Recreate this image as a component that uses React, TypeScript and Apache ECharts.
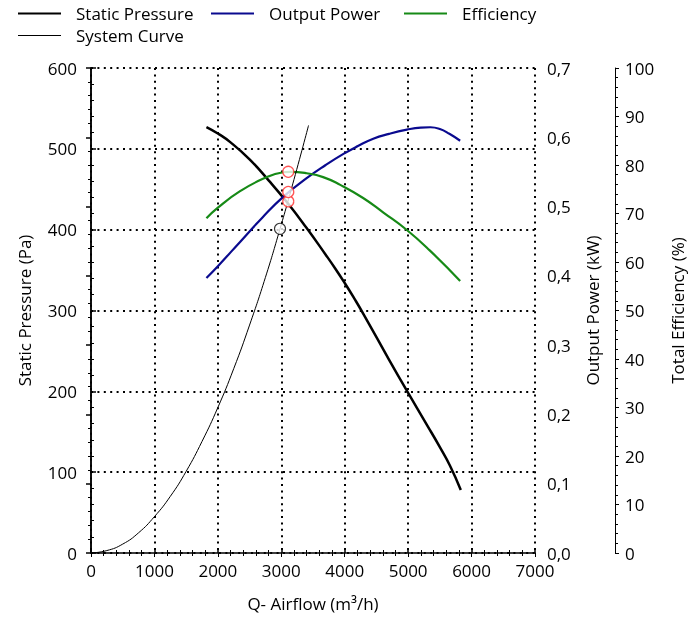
import React, { useEffect, useRef } from "react";
import * as echarts from "echarts";

// ---- data ----
const pressureQ = [1820, 2000, 2200, 2500, 2800, 3100, 3400, 3700, 3850, 4000, 4150, 4300, 4700, 5000, 5300, 5500, 5660, 5830];
const pressureP = [527, 519, 508, 487, 461, 433, 402, 369, 352, 334, 315, 295, 239, 198, 158, 131, 108, 78];

const powerQ = [1820, 2000, 2350, 2700, 3030, 3400, 3700, 3980, 4200, 4450, 4700, 4980, 5200, 5350, 5500, 5650, 5820];
const powerKW = [0.397, 0.414, 0.449, 0.484, 0.514, 0.541, 0.56, 0.576, 0.587, 0.598, 0.605, 0.611, 0.614, 0.6145, 0.612, 0.605, 0.595];

const effQ = [1820, 2000, 2350, 2720, 3030, 3140, 3400, 3660, 3930, 4290, 4610, 4980, 5340, 5820];
const effPct = [69.0, 71.2, 74.6, 77.2, 78.5, 78.6, 78.3, 77.5, 75.9, 73.2, 70.2, 66.6, 62.4, 56.1];

const systemQ = [0, 250, 500, 750, 1000, 1250, 1500, 1750, 2000, 2250, 2500, 2750, 2980, 3200, 3430];
const systemP = [0, 3, 11, 25, 45, 70, 101, 138, 180, 228, 282, 341, 401, 462, 529];

const opQ = 3110;
const opPressure = 435;
const opPower = 0.521;
const opEff = 78.6;
const sysPointQ = 2980;
const sysPointP = 401;

const xTicks = [0, 7000, 1000];
const pressureTicks = [0, 600, 100];
const powerTicks = [0, 0.7, 0.1];
const effTicks = [0, 100, 10];

const FONT = "Open Sans";

export default function App() {
  const ref = useRef<HTMLDivElement>(null);
  useEffect(() => {
    if (!ref.current) return;
    const chart = echarts.init(ref.current, undefined, { renderer: "svg" });
    const zip = (a: number[], b: number[]) => a.map((v, i) => [v, b[i]]);
    const dotted = { color: "#000", width: 2, type: [2, 4.4] as any };
    const txt = { color: "#000", fontFamily: FONT, fontSize: 17 };
    const redCircle = {
      color: "#fff",
      borderColor: "#ff2a2a",
      borderWidth: 1.3,
    };
    const lineCommon = { type: "line", smooth: 0.5, symbol: "none", z: 3 };
    const thick = "path://M0,0H43V2.2H0Z";
    const thin = "path://M0,0H43V1.1H0Z";
    const mkLegend = (name: string, left: number, top: number, icon: string) => ({
      left,
      top,
      padding: 0,
      itemWidth: 43,
      itemHeight: 14,
      data: [{ name, icon }],
      textStyle: { ...txt, padding: [0, 0, 0, 10] },
    });
    chart.setOption({
      animation: false,
      textStyle: { fontFamily: FONT },
      legend: [
        mkLegend("Static Pressure", 18, 5, thick),
        mkLegend("Output Power", 211, 5, thick),
        mkLegend("Efficiency", 404, 5, thick),
        mkLegend("System Curve", 18, 27, thin),
      ],
      grid: { left: 91, right: 163, top: 68, bottom: 65 },
      xAxis: [
        {
          type: "value",
          min: xTicks[0],
          max: xTicks[1],
          interval: xTicks[2],
          name: "Q- Airflow (m³/h)",
          nameLocation: "middle",
          nameGap: 42,
          nameTextStyle: txt,
          axisLine: { show: true, lineStyle: { color: "#000", width: 1.5 } },
          axisTick: { show: true, inside: true, length: 5, lineStyle: { color: "#000", width: 1.5 } },
          minorTick: { show: true, splitNumber: 5, length: 3, lineStyle: { color: "#000" } },
          axisLabel: { ...txt, margin: 9, formatter: (v: number) => String(v) },
          splitLine: { show: true, lineStyle: dotted },
        },
        {
          type: "value",
          position: "top",
          min: xTicks[0],
          max: xTicks[1],
          interval: xTicks[2],
          axisLine: { show: false },
          axisTick: { show: true, inside: true, length: 4, lineStyle: { color: "#000" } },
          minorTick: { show: true, splitNumber: 5, length: 3, lineStyle: { color: "#000" } },
          axisLabel: { show: false },
          splitLine: { show: false },
        },
      ],
      yAxis: [
        {
          type: "value",
          min: pressureTicks[0],
          max: pressureTicks[1],
          interval: pressureTicks[2],
          name: "Static Pressure (Pa)",
          nameLocation: "middle",
          nameGap: 58,
          nameTextStyle: txt,
          axisLine: { show: true, lineStyle: { color: "#000", width: 1.5 } },
          axisTick: { show: true, inside: true, length: 5, lineStyle: { color: "#000", width: 1.5 } },
          minorTick: { show: true, splitNumber: 5, length: 3, lineStyle: { color: "#000" } },
          axisLabel: { ...txt, margin: 14, formatter: (v: number) => String(v) },
          splitLine: { show: true, lineStyle: dotted },
        },
        {
          type: "value",
          position: "right",
          min: powerTicks[0],
          max: powerTicks[1],
          interval: powerTicks[2],
          name: "Output Power (kW)",
          nameLocation: "middle",
          nameGap: 49,
          nameTextStyle: txt,
          axisLine: { show: true, lineStyle: { color: "#000", width: 1.5 } },
          axisTick: { show: true, inside: true, length: 5, lineStyle: { color: "#000", width: 1.5 } },
          minorTick: { show: true, splitNumber: 5, length: 3, lineStyle: { color: "#000" } },
          axisLabel: {
            ...txt,
            margin: 12,
            formatter: (v: number) => v.toFixed(1).replace(".", ","),
          },
          splitLine: { show: false },
        },
        {
          type: "value",
          position: "right",
          offset: 80,
          min: effTicks[0],
          max: effTicks[1],
          interval: effTicks[2],
          name: "Total Efficiency (%)",
          nameLocation: "middle",
          nameGap: 54,
          nameTextStyle: txt,
          axisLine: { show: true, lineStyle: { color: "#000", width: 1 } },
          axisTick: { show: true, inside: false, length: 4, lineStyle: { color: "#000" } },
          minorTick: { show: true, splitNumber: 5, length: 3, lineStyle: { color: "#000" } },
          axisLabel: { ...txt, margin: 10, formatter: (v: number) => String(v) },
          splitLine: { show: false },
        },
      ],
      series: [
        {
          ...lineCommon,
          name: "Static Pressure",
          yAxisIndex: 0,
          data: zip(pressureQ, pressureP),
          lineStyle: { color: "#000", width: 2.5 },
          itemStyle: { color: "#000" },
        },
        {
          ...lineCommon,
          name: "Output Power",
          yAxisIndex: 1,
          data: zip(powerQ, powerKW),
          lineStyle: { color: "#0a0a8f", width: 2.2 },
          itemStyle: { color: "#0a0a8f" },
        },
        {
          ...lineCommon,
          name: "Efficiency",
          yAxisIndex: 2,
          data: zip(effQ, effPct),
          lineStyle: { color: "#168a16", width: 2.2 },
          itemStyle: { color: "#168a16" },
        },
        {
          ...lineCommon,
          name: "System Curve",
          yAxisIndex: 0,
          data: zip(systemQ, systemP),
          lineStyle: { color: "#000", width: 1 },
          itemStyle: { color: "#000" },
        },
        {
          name: "opPressure",
          type: "scatter",
          yAxisIndex: 0,
          data: [[opQ, opPressure], [sysPointQ, sysPointP]].map((d, i) => ({
            value: d,
            itemStyle: i === 0 ? redCircle : { color: "#fff", borderColor: "#000", borderWidth: 1.1 },
          })),
          symbol: "circle",
          symbolSize: 11,
          z: 5,
        },
        {
          name: "opPower",
          type: "scatter",
          yAxisIndex: 1,
          data: [[opQ, opPower]],
          symbol: "circle",
          symbolSize: 11,
          itemStyle: redCircle,
          z: 5,
        },
        {
          name: "opEff",
          type: "scatter",
          yAxisIndex: 2,
          data: [[opQ, opEff]],
          symbol: "circle",
          symbolSize: 11,
          itemStyle: redCircle,
          z: 5,
        },
      ],
    });
    return () => chart.dispose();
  }, []);
  return (
    <div
      ref={ref}
      style={{ position: "fixed", left: 0, top: 0, width: 698, height: 618 }}
    />
  );
}
